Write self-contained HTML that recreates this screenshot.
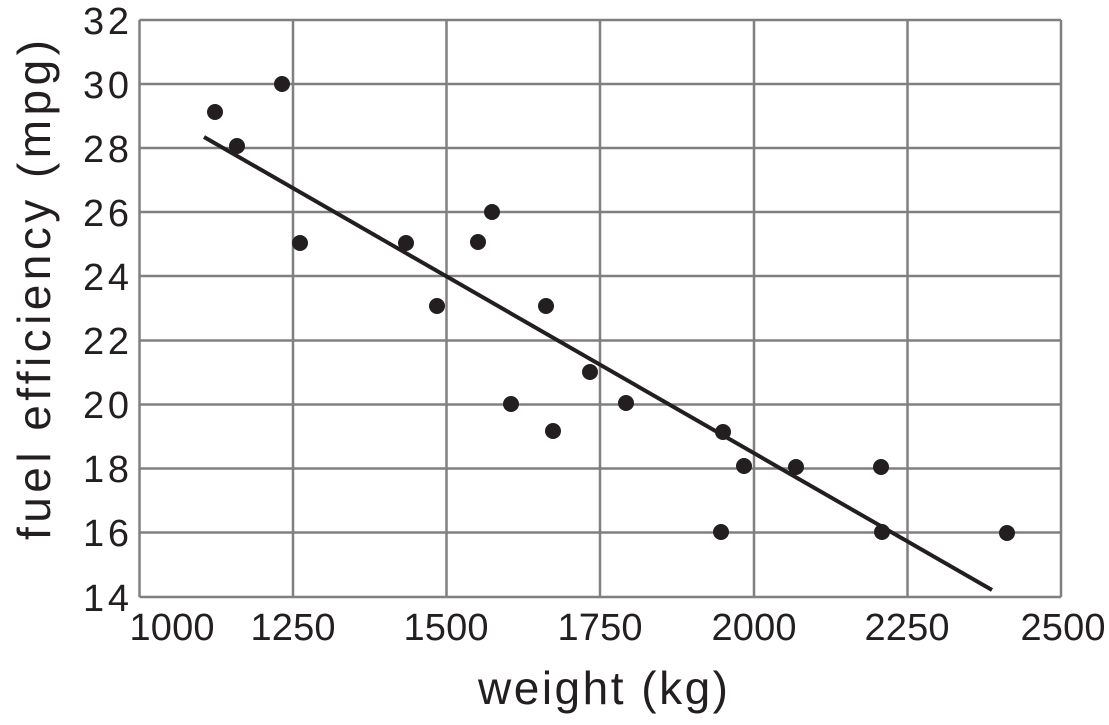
<!DOCTYPE html>
<html><head><style>body{margin:0;background:#fff}</style></head><body>
<svg width="1109" height="720" xmlns="http://www.w3.org/2000/svg" font-family="Liberation Sans, sans-serif" fill="#231f20">
<g stroke="#808080" stroke-width="2.5">
<line x1="139.5" y1="20" x2="139.5" y2="597"/><line x1="293" y1="20" x2="293" y2="597"/><line x1="446.5" y1="20" x2="446.5" y2="597"/><line x1="600" y1="20" x2="600" y2="597"/><line x1="754" y1="20" x2="754" y2="597"/><line x1="907.5" y1="20" x2="907.5" y2="597"/><line x1="1061" y1="20" x2="1061" y2="597"/>
<line x1="139.5" y1="20" x2="1061" y2="20"/><line x1="139.5" y1="84" x2="1061" y2="84"/><line x1="139.5" y1="148" x2="1061" y2="148"/><line x1="139.5" y1="212" x2="1061" y2="212"/><line x1="139.5" y1="276" x2="1061" y2="276"/><line x1="139.5" y1="340.5" x2="1061" y2="340.5"/><line x1="139.5" y1="404.5" x2="1061" y2="404.5"/><line x1="139.5" y1="468.5" x2="1061" y2="468.5"/><line x1="139.5" y1="532.5" x2="1061" y2="532.5"/><line x1="139.5" y1="597" x2="1061" y2="597"/>
</g>
<line x1="204" y1="137" x2="992" y2="590" stroke="#231f20" stroke-width="4"/>
<g>
<circle cx="215" cy="112" r="8"/><circle cx="237" cy="146" r="8"/><circle cx="282" cy="84" r="8"/><circle cx="300" cy="243" r="8"/><circle cx="406" cy="243" r="8"/><circle cx="437" cy="306" r="8"/><circle cx="478" cy="242" r="8"/><circle cx="492" cy="212" r="8"/><circle cx="511" cy="404" r="8"/><circle cx="546" cy="306" r="8"/><circle cx="553" cy="431" r="8"/><circle cx="590" cy="372" r="8"/><circle cx="626" cy="403" r="8"/><circle cx="723" cy="432" r="8"/><circle cx="721" cy="532" r="8"/><circle cx="744" cy="466" r="8"/><circle cx="796" cy="467" r="8"/><circle cx="881" cy="467" r="8"/><circle cx="882" cy="532" r="8"/><circle cx="1007" cy="533" r="8"/>
</g>
<g font-size="38" text-anchor="end">
<text x="129" y="34" textLength="46">32</text><text x="129" y="98" textLength="46">30</text><text x="129" y="162" textLength="46">28</text><text x="129" y="226" textLength="46">26</text><text x="129" y="290" textLength="46">24</text><text x="129" y="354" textLength="46">22</text><text x="129" y="418" textLength="46">20</text><text x="129" y="482" textLength="46">18</text><text x="129" y="546" textLength="46">16</text><text x="129" y="611" textLength="46">14</text>
</g>
<g font-size="38" text-anchor="middle">
<text x="172" y="640" textLength="85">1000</text><text x="293" y="640" textLength="85">1250</text><text x="446" y="640" textLength="85">1500</text><text x="600" y="640" textLength="85">1750</text><text x="754" y="640" textLength="85">2000</text><text x="907" y="640" textLength="85">2250</text><text x="1063" y="640" textLength="85">2500</text>
</g>
<text x="603" y="704" font-size="46" text-anchor="middle" textLength="250">weight (kg)</text>
<text transform="translate(50,290) rotate(-90)" font-size="46" text-anchor="middle" textLength="500">fuel efficiency (mpg)</text>
</svg>
</body></html>
